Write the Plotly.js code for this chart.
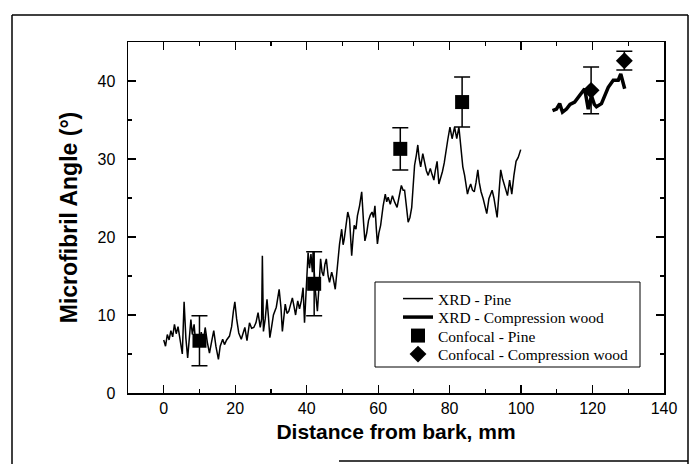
<!DOCTYPE html>
<html>
<head>
<meta charset="utf-8">
<script src="https://cdn.plot.ly/plotly-3.0.1.min.js"></script>
<style>
html,body{margin:0;padding:0;background:#fff;}
#chart{width:690px;height:464px;}
</style>
</head>
<body>
<div id="chart"></div>
<script>
// XRD - Pine (distance mm, MFA deg)
const pineX = [0,0.5,1,1.5,2,2.5,3,3.5,4,4.6,5.2,5.7,6.2,6.7,7.2,7.6,8.0,8.5,9.0,9.5,10.0,10.5,11.0,11.6,12.2,12.8,13.4,14.0,14.6,15.3,15.8,16.5,17.0,17.6,18.4,19.0,19.5,19.9,20.4,21.0,21.7,22.2,22.7,23.3,24.0,24.6,25.2,25.8,26.4,27.0,27.4,27.6,27.9,28.4,28.9,29.3,29.7,30.2,30.7,31.5,32.3,32.8,33.2,34.0,34.5,35.0,35.5,36.0,36.5,36.9,37.5,38.0,38.5,39.0,39.4,40.0,40.4,40.8,41.2,41.6,41.8,42.4,43.0,43.5,43.9,44.3,44.7,45.1,45.5,46.0,46.4,47.0,47.4,48.0,48.6,49.2,49.8,50.2,50.5,51.0,51.5,52.0,52.3,52.6,53.0,53.3,53.8,54.2,54.8,55.4,55.9,56.3,56.8,57.3,57.8,58.3,58.7,59.1,59.5,59.8,60.2,60.7,61.4,62.0,62.4,62.8,63.4,64.0,64.6,65.3,65.8,66.5,67.0,67.4,67.9,68.4,68.9,69.4,69.8,70.2,70.7,71.1,71.5,71.9,72.5,73.1,73.5,74.0,74.6,75.1,75.6,76.0,76.5,77.0,77.5,78.0,78.5,78.9,79.5,80.1,80.7,81.4,82.0,82.6,83.2,83.7,84.2,84.6,85.0,85.4,85.9,86.4,86.9,87.4,87.9,88.3,88.8,89.4,89.9,90.4,91.0,91.5,91.9,92.4,92.8,93.3,93.8,94.3,94.8,95.3,95.8,96.2,96.8,97.4,98.0,98.6,99.2,99.9];
const pineY = [6.8,6.0,7.5,6.8,8.0,7.2,8.8,7.6,8.5,6.5,5.0,11.7,7.0,4.5,7.0,9.4,7.5,8.8,6.0,7.5,6.0,7.8,6.2,8.4,6.5,5.1,6.6,8.0,6.0,4.3,6.0,6.9,6.2,6.8,7.3,8.5,10.5,11.7,9.5,7.7,6.9,7.8,8.4,6.7,9.0,8.3,8.4,9.0,10.3,8.4,9.5,17.6,7.9,9.5,12.0,9.8,7.1,8.5,10.0,11.0,13.3,11.0,7.9,11.4,10.2,10.5,11.3,12.2,11.0,10.0,11.8,10.8,11.8,13.5,9.0,14.0,18.0,16.0,17.8,15.5,18.2,13.3,10.5,14.0,17.2,15.5,15.0,16.5,17.2,15.0,14.2,15.5,14.8,13.3,16.7,19.1,21.0,19.0,19.7,21.5,23.2,22.3,19.5,17.6,20.0,21.5,21.0,22.7,24.0,25.8,22.0,19.5,20.5,22.1,22.8,23.2,22.5,24.0,21.0,19.1,20.5,21.5,24.0,25.5,24.5,25.1,24.2,25.3,24.5,23.8,25.0,26.6,26.0,26.0,24.0,21.9,22.5,23.8,26.5,29.2,30.5,31.8,30.0,29.0,30.7,29.2,28.5,27.9,28.8,28.0,27.3,28.5,29.7,26.8,27.5,28.4,29.5,30.5,32.5,34.1,32.6,34.1,32.6,34.1,30.9,29.0,27.9,26.5,25.5,26.2,26.8,26.0,25.8,27.0,28.6,27.0,25.8,24.9,24.0,23.0,24.9,25.5,26.0,25.0,23.8,22.5,25.5,28.6,27.5,26.6,26.0,25.3,27.3,25.5,27.9,29.7,30.2,31.2];

// XRD - Compression wood
const cwX = [108.8,109.9,110.8,111.6,112.7,113.7,115.0,116.4,117.8,118.8,119.7,120.5,121.1,122.5,124.4,125.8,127.2,127.9,128.6,129.0];
const cwY = [36.2,36.4,37.1,36.0,36.4,37.0,37.3,38.1,39.0,36.4,38.1,37.0,36.7,37.1,39.2,40.1,40.1,40.9,39.4,39.0];

// Confocal - Pine
const cpX = [10, 42.1, 66.2, 83.5];
const cpY = [6.7, 14.0, 31.3, 37.3];
const cpErr = [3.2, 4.1, 2.7, 3.2];

// Confocal - Compression wood
const ccX = [119.6, 128.9];
const ccY = [38.8, 42.6];
const ccErr = [3.0, 1.2];

const xTicks = [0, 20, 40, 60, 80, 100, 120, 140];
const yTicks = [0, 10, 20, 30, 40];

const names = ['XRD - Pine', 'XRD - Compression wood', 'Confocal - Pine', 'Confocal - Compression wood'];

const traces = [
  {x: pineX, y: pineY, type: 'scatter', mode: 'lines', name: names[0],
   line: {color: '#000', width: 1.5}},
  {x: cwX, y: cwY, type: 'scatter', mode: 'lines', name: names[1],
   line: {color: '#000', width: 3.5}},
  {x: cpX, y: cpY, type: 'scatter', mode: 'markers', name: names[2],
   marker: {symbol: 'square', size: 14, color: '#000'},
   error_y: {type: 'data', array: cpErr, visible: true, color: '#000', thickness: 1.5, width: 8}},
  {x: ccX, y: ccY, type: 'scatter', mode: 'markers', name: names[3],
   marker: {symbol: 'diamond', size: 13, color: '#000'},
   error_y: {type: 'data', array: ccErr, visible: true, color: '#000', thickness: 1.5, width: 8}}
];

const L = 128, T = 42, W = 536, H = 351;
function px(x){ return (x - L) / W; }
function py(y){ return (T + H - y) / H; }

const layout = {
  width: 690, height: 464,
  margin: {l: L, r: 690 - L - W, t: T, b: 464 - T - H},
  paper_bgcolor: '#fff', plot_bgcolor: '#fff',
  showlegend: true,
  font: {family: 'Liberation Sans, Arial, sans-serif', color: '#000'},
  xaxis: {
    range: [-10, 140], tickvals: xTicks, ticktext: xTicks.map(String),
    ticks: 'inside', ticklen: 8, tickwidth: 1.2, tickcolor: '#000',
    showline: true, linecolor: '#000', linewidth: 1.5, mirror: 'allticks',
    showgrid: false, zeroline: false,
    minor: {ticks: 'inside', dtick: 10, tick0: 0, ticklen: 4, tickcolor: '#000', tickwidth: 1.2, showgrid: false},
    tickfont: {size: 16, family: 'Liberation Sans, Arial, sans-serif'},
    title: {text: 'Distance from bark, mm', font: {size: 21, family: 'Liberation Sans, Arial, sans-serif', weight: 'bold'}, standoff: 8}
  },
  yaxis: {
    range: [0, 45], tickvals: yTicks, ticktext: yTicks.map(String),
    ticks: 'inside', ticklen: 8, tickwidth: 1.2, tickcolor: '#000',
    showline: true, linecolor: '#000', linewidth: 1.5, mirror: 'allticks',
    showgrid: false, zeroline: false,
    minor: {ticks: 'inside', dtick: 5, tick0: 0, ticklen: 4, tickcolor: '#000', tickwidth: 1.2, showgrid: false},
    tickfont: {size: 16, family: 'Liberation Sans, Arial, sans-serif'},
    ticklabelstandoff: 8,
    title: {text: 'Microfibril Angle (°)', font: {size: 23, family: 'Liberation Sans, Arial, sans-serif', weight: 'bold'}, standoff: 13}
  },
  legend: {
    x: px(398), y: py(282), xanchor: 'left', yanchor: 'top',
    bgcolor: 'rgba(0,0,0,0)', borderwidth: 0,
    font: {family: 'Liberation Serif, Times New Roman, serif', size: 15.5, color: '#000'},
    tracegroupgap: 0
  },
  shapes: [
    // legend box
    {type: 'rect', xref: 'paper', yref: 'paper', x0: px(375), x1: px(640), y0: py(367), y1: py(282),
     line: {color: '#000', width: 1}, fillcolor: 'rgba(0,0,0,0)', layer: 'above'},
    // outer figure frame
    {type: 'line', xref: 'paper', yref: 'paper', x0: px(12), x1: px(688), y0: py(15), y1: py(15), line: {color: '#000', width: 1.5}},
    {type: 'line', xref: 'paper', yref: 'paper', x0: px(12), x1: px(12), y0: py(15), y1: py(464), line: {color: '#000', width: 1.5}},
    {type: 'line', xref: 'paper', yref: 'paper', x0: px(688), x1: px(688), y0: py(15), y1: py(464), line: {color: '#000', width: 1.5}},
    {type: 'line', xref: 'paper', yref: 'paper', x0: px(339), x1: px(688), y0: py(461), y1: py(461), line: {color: '#000', width: 1.5}}
  ]
};

Plotly.newPlot('chart', traces, layout, {staticPlot: true, displayModeBar: false}).then(function (gd) {
  // tighten the legend row spacing to match the printed legend
  const items = gd.querySelectorAll('g.legend g.traces');
  const parse = function (el) {
    const m = /translate\(\s*([-\d.e]+)[ ,]+([-\d.e]+)/.exec(el.getAttribute('transform') || '');
    return m ? [parseFloat(m[1]), parseFloat(m[2])] : null;
  };
  if (items.length) {
    const p0 = parse(items[0]);
    if (p0) {
      items.forEach(function (el, i) {
        const p = parse(el);
        if (p) el.setAttribute('transform', 'translate(' + p[0] + ',' + (p0[1] + i * 18.5) + ')');
      });
    }
  }
});
</script>
</body>
</html>
